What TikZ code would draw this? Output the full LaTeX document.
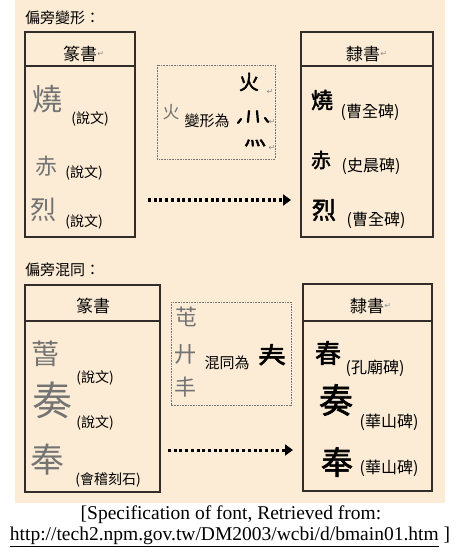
\documentclass[tikz,border=0pt]{standalone}
\usepackage{fontspec}
\setmainfont{Liberation Serif}
\newfontfamily\cjk{Noto Sans CJK TC}
\newfontfamily\cjkb[FakeBold=2]{Noto Sans CJK TC}
\newfontfamily\djv{DejaVu Sans}
\usetikzlibrary{arrows.meta}
\definecolor{bg}{RGB}{252,236,214}
\definecolor{framec}{RGB}{50,45,40}
\definecolor{sealc}{RGB}{115,115,115}
\newcommand{\fs}[1]{\fontsize{#1}{#1}\selectfont}
\tikzset{
  frame/.style={draw=framec, line width=1.2pt},
  dotbox/.style={draw=black!55, line width=0.8pt, dash pattern=on 0.8pt off 0.8pt},
  sealch/.style={font=\cjk, text=sealc, inner sep=0pt},
  clerch/.style={font=\cjkb, text=black, inner sep=0pt},
  srclab/.style={font=\cjk\fs{14}, inner sep=0pt},
  srclabr/.style={font=\cjk\fs{16}, inner sep=0pt},
  head/.style={font=\cjk\fs{17}, inner sep=0pt},
  ttl/.style={font=\cjk\fs{15}, inner sep=0pt, anchor=west},
  mid/.style={font=\cjk\fs{15}, inner sep=0pt},
  retm/.style={font=\djv\fs{8}, text=black!45, inner sep=0pt},
  dotarrow/.style={line width=3pt, dash pattern=on 3pt off 2.7pt,
    -{Triangle[length=8pt,width=11pt]}},
}
\begin{document}
\begin{tikzpicture}[x=1pt,y=-1pt]
\useasboundingbox (0,0) rectangle (461,553);
\fill[bg] (15,0) rectangle (445,503);

% ---------- section 1 ----------
\node[ttl] (t1) at (25,18) {偏旁變形：};

\draw[frame] (25,32) rectangle (135,237);
\draw[frame] (25,66) -- (135,66);
\node[head] (h1) at (80,54) {篆書};
\node[retm, anchor=west] (h1r) at (h1.east) {↵};

\node[sealch, font=\cjk\fs{30}] (s1) at (47,99) {燒};
\node[srclab] (s1l) at (90,119) {(說文)};
\node[sealch, font=\cjk\fs{22}] (s2) at (46,166) {赤};
\node[srclab] (s2l) at (84,173) {(說文)};
\node[sealch, font=\cjk\fs{26}] (s3) at (43,210) {烈};
\node[srclab] (s3l) at (84,222) {(說文)};

\draw[dotbox] (157,65) rectangle (275,159);
\node[sealch, font=\cjk\fs{17}] (m1a) at (171,112) {火};
\node[mid] (m1t) at (207,121) {變形為};
\node[clerch, font=\cjkb\fs{20}] (m1b) at (249,82) {火};
\node[retm] (m1br) at (270,92) {↵};
\node[inner sep=0pt, minimum width=30pt, minimum height=14pt] (m1c) at (253,117) {};
\draw[line width=2.2pt, line cap=round]
  (241,119) -- (238,123)
  (249,111) -- (248,122)
  (257,111) -- (258,122)
  (265,118) -- (268,122);
\node[retm] (m1cr) at (272,122) {↵};
\node[clerch, font=\cjkb\fs{22}] (m1d) at (255,143) {灬};
\node[retm] (m1dr) at (272,148) {↵};

\coordinate (a1s) at (148,200);
\coordinate (a1e) at (291,200);
\draw[dotarrow] (a1s) -- (a1e);

\draw[frame] (301,32) rectangle (433,237);
\draw[frame] (301,66) -- (433,66);
\node[head] (h2) at (363,54) {隸書};
\node[retm, anchor=west] (h2r) at (h2.east) {↵};

\node[clerch, font=\cjkb\fs{22}] (c1) at (322,100) {燒};
\node[srclabr] (c1l) at (370,112) {(曹全碑)};
\node[clerch, font=\cjkb\fs{20}] (c2) at (321,160) {赤};
\node[srclabr] (c2l) at (371,166) {(史晨碑)};
\node[clerch, font=\cjkb\fs{24}] (c3) at (324,210) {烈};
\node[srclabr] (c3l) at (376,220) {(曹全碑)};

% ---------- section 2 ----------
\node[ttl] (t2) at (25,270) {偏旁混同：};

\draw[frame] (25,285) rectangle (160,492);
\draw[frame] (25,321) -- (160,321);
\node[head] (h3) at (93,306) {篆書};

\node[sealch, font=\cjk\fs{28}] (s4) at (45,354) {萅};
\node[srclab] (s4l) at (95,378) {(說文)};
\node[sealch, font=\cjk\fs{40}] (s5) at (52,400) {奏};
\node[srclab] (s5l) at (95,423) {(說文)};
\node[sealch, font=\cjk\fs{34}] (s6) at (47,460) {奉};
\node[srclab] (s6l) at (108,480) {(會稽刻石)};

\draw[dotbox] (171,302) rectangle (291,405);
\node[sealch, font=\cjk\fs{22}] (m2a) at (186,317) {芚};
\node[sealch, font=\cjk\fs{22}] (m2b) at (185,354) {廾};
\node[sealch, font=\cjk\fs{22}] (m2c) at (185,387) {丰};
\node[mid] (m2t) at (227,363) {混同為};
\node[clerch, font=\cjkb\fs{28}] (m2d) at (272,355) {𡗗};

\coordinate (a2s) at (168,450);
\coordinate (a2e) at (293,450);
\draw[dotarrow] (a2s) -- (a2e);

\draw[frame] (303,284) rectangle (432,491);
\draw[frame] (303,321) -- (432,321);
\node[head] (h4) at (367,306) {隸書};
\node[retm, anchor=west] (h4r) at (h4.east) {↵};

\node[clerch, font=\cjkb\fs{26}] (c4) at (328,353) {春};
\node[srclabr] (c4l) at (375,368) {(孔廟碑)};
\node[clerch, font=\cjkb\fs{34}] (c5) at (336,400) {奏};
\node[srclabr] (c5l) at (389,422) {(華山碑)};
\node[clerch, font=\cjkb\fs{32}] (c6) at (337,462) {奉};
\node[srclabr] (c6l) at (389,468) {(華山碑)};

% ---------- caption ----------
\node[font=\fs{19.5}, inner sep=0pt] (cap1) at (231,515) {[Specification of font, Retrieved from:};
\node[font=\fs{19.5}, inner sep=0pt] (cap2) at (230,537) {\underline{http://tech2.npm.gov.tw/DM2003/wcbi/d/bmain01.htm} ]};
\end{tikzpicture}
\end{document}
